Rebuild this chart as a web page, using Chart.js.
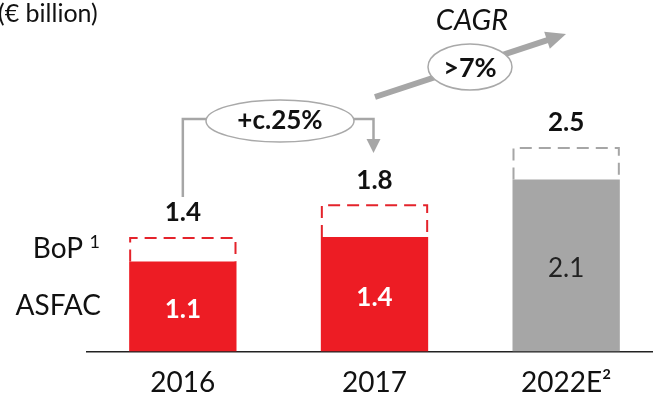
<!DOCTYPE html>
<html>
<head>
<meta charset="utf-8">
<script src="https://cdn.jsdelivr.net/npm/chart.js@4"></script>
<style>
  body { margin: 0; overflow: hidden; background: #fff; }
  canvas { display: block; }
</style>
</head>
<body>
<canvas id="revenueChart" width="662" height="415"></canvas>
<script>
  const years = ["2016", "2017", "2022E²"]
  const asfac = [1.1, 1.4, 2.1]
  const totals = [1.4, 1.8, 2.5]
  const bop = totals.map((t, i) => Math.round((t - asfac[i]) * 10) / 10)
  const solidColors = ["#ed1c24", "#ed1c24", "#a6a6a6"]
  const dashColors = ["#e4232b", "#e4232b", "#a6a6a6"]

  const FONT = "Lato, 'Open Sans', sans-serif"
  const GREY = "#a6a6a6"

  function arrowHead(c, x, y, angle, len, half) {
    c.save()
    c.translate(x, y)
    c.rotate(angle)
    c.beginPath()
    c.moveTo(0, 0)
    c.lineTo(-len, -half)
    c.lineTo(-len, half)
    c.closePath()
    c.fill()
    c.restore()
  }

  function ellipse(c, cx, cy, rx, ry) {
    c.beginPath()
    c.ellipse(cx, cy, rx, ry, 0, 0, Math.PI * 2)
    c.fillStyle = "#fff"
    c.fill()
    c.lineWidth = 1.5
    c.strokeStyle = "#a9a9a9"
    c.stroke()
  }

  // dashed BoP boxes, value labels, row labels and growth callouts
  const extras = {
    id: "extras",
    afterDatasetsDraw(chart) {
      const c = chart.ctx
      const base = chart.getDatasetMeta(0).data
      const top = chart.getDatasetMeta(1).data

      c.save()
      top.forEach((bar, i) => {
        const l = bar.x - bar.width / 2 + 1
        const r = bar.x + bar.width / 2 - 1
        c.setLineDash([12, 7])
        c.lineWidth = 2
        c.strokeStyle = dashColors[i]
        c.beginPath()
        c.moveTo(l, bar.base)
        c.lineTo(l, bar.y + 1)
        c.lineTo(r, bar.y + 1)
        c.lineTo(r, bar.base)
        c.stroke()
      })
      c.setLineDash([])

      c.textAlign = "center"
      c.textBaseline = "middle"
      top.forEach((bar, i) => {
        c.font = "bold 26px " + FONT
        c.fillStyle = "#111"
        c.fillText(totals[i].toFixed(1), bar.x, bar.y - 24)
      })
      base.forEach((bar, i) => {
        const last = i === base.length - 1
        c.font = (last ? "" : "bold ") + "26px " + FONT
        c.fillStyle = last ? "#222" : "#fff"
        c.fillText(asfac[i].toFixed(1), bar.x, (bar.y + bar.base) / 2 + 3)
      })

      // series names to the left of the first bar
      const b0 = base[0], t0 = top[0]
      c.textAlign = "right"
      c.fillStyle = "#111"
      c.font = "28px " + FONT
      c.fillText("ASFAC", 101, (b0.y + b0.base) / 2)
      c.fillText("BoP", 83, (t0.y + t0.base) / 2)
      c.font = "18px " + FONT
      c.fillText("1", 100, (t0.y + t0.base) / 2 - 7)

      c.textAlign = "left"
      c.font = "25px " + FONT
      c.fillText("(€ billion)", -2, 14)

      // 2016 -> 2017 connector
      const y1 = 119
      c.strokeStyle = GREY
      c.fillStyle = GREY
      c.lineWidth = 2.5
      c.beginPath()
      c.moveTo(base[0].x, t0.y - 40)
      c.lineTo(base[0].x, y1)
      c.lineTo(base[1].x - 1, y1)
      c.lineTo(base[1].x - 1, 140)
      c.stroke()
      arrowHead(c, base[1].x - 1, 153, Math.PI / 2, 14, 7)
      ellipse(c, 280, 121, 74, 21)
      c.textAlign = "center"
      c.fillStyle = "#111"
      c.font = "bold 26px " + FONT
      c.fillText("+c.25%", 280, 121)

      // CAGR arrow
      const sx = 375, sy = 97, ex = 566, ey = 34
      const ang = Math.atan2(ey - sy, ex - sx)
      c.strokeStyle = GREY
      c.fillStyle = GREY
      c.lineWidth = 6
      c.beginPath()
      c.moveTo(sx, sy)
      c.lineTo(ex - 14 * Math.cos(ang), ey - 14 * Math.sin(ang))
      c.stroke()
      arrowHead(c, ex, ey, ang, 20, 9)
      ellipse(c, 470, 67, 42, 23)
      c.fillStyle = "#111"
      c.font = "bold 27px " + FONT
      c.fillText(">7%", 470, 68)
      c.font = "italic 29px " + FONT
      c.fillText("CAGR", 472, 21)
      c.restore()
    },
  }

  const ctx = document.getElementById("revenueChart")

  new Chart(ctx, {
    type: "bar",
    data: {
      labels: years,
      datasets: [
        {
          label: "ASFAC",
          data: asfac,
          backgroundColor: solidColors,
          borderWidth: 0,
          barPercentage: 0.56,
          categoryPercentage: 1,
        },
        {
          label: "BoP",
          data: bop,
          backgroundColor: "rgba(0,0,0,0)",
          borderWidth: 0,
          barPercentage: 0.56,
          categoryPercentage: 1,
        },
      ],
    },
    options: {
      responsive: false,
      animation: false,
      layout: { padding: { left: 87, right: 0, top: 106, bottom: 0 } },
      plugins: { legend: { display: false }, tooltip: { enabled: false } },
      scales: {
        x: {
          stacked: true,
          grid: { display: false, drawTicks: false },
          border: { display: true, color: "#222", width: 1.5 },
          ticks: {
            color: "#111",
            padding: 15,
            font: { family: FONT, size: 28, lineHeight: 1.2 },
          },
        },
        y: { stacked: true, display: false, min: 0, max: 3 },
      },
    },
    plugins: [extras],
  })
</script>
</body>
</html>
